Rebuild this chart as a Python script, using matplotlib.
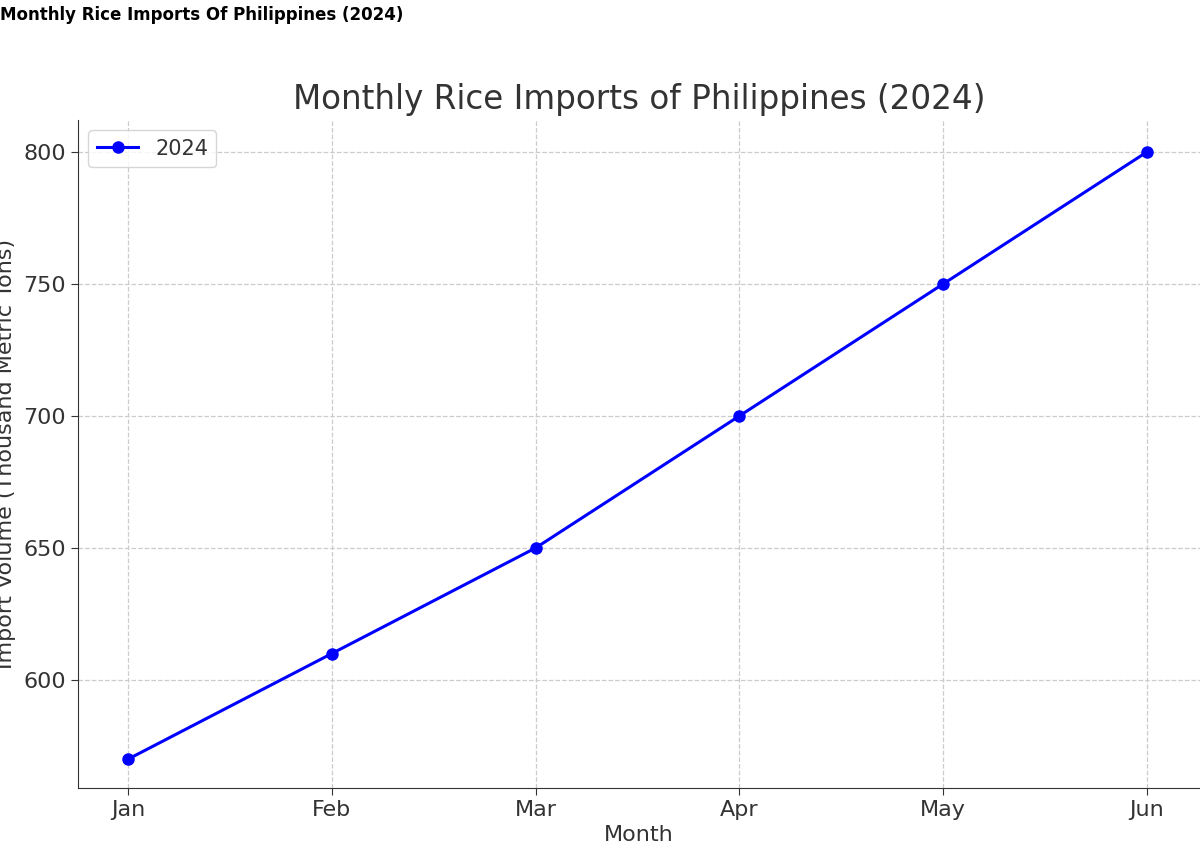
import matplotlib
matplotlib.use("Agg")
import matplotlib.pyplot as plt

months = ["Jan", "Feb", "Mar", "Apr", "May", "Jun"]
imports_2024 = [570, 610, 650, 700, 750, 800]

plt.rcParams['font.family'] = ['DejaVu Sans']
fig = plt.figure(figsize=(12, 8.58), dpi=100)
ax = fig.add_axes([0.065, 0.0816, 0.935, 0.7786])
x = list(range(len(months)))
ax.plot(x, imports_2024, color='blue', marker='o', markersize=8, linewidth=2.2, label='2024')
ax.set_xticks(x)
ax.set_xticklabels(months)
ax.set_xlim(-0.245, 5.26)
ax.set_ylim(559.1, 812.1)
ax.set_yticks([600, 650, 700, 750, 800])
ax.grid(True, linestyle='--', color='#cccccc', linewidth=0.9)
ax.tick_params(labelsize=16, colors='#333333', length=5)
ax.spines['top'].set_visible(False)
ax.spines['right'].set_visible(False)
ax.spines['left'].set_color('#333333')
ax.spines['bottom'].set_color('#333333')
ax.set_title("Monthly Rice Imports of Philippines (2024)", fontsize=23.5, color='#333333', pad=8)
ax.set_xlabel("Month", fontsize=16, color='#333333', labelpad=4)
ax.set_ylabel("Import Volume (Thousand Metric Tons)", fontsize=16, color='#333333')
ax.yaxis.set_label_coords(-0.055, 0.5)
ax.legend(loc='upper left', fontsize=15, labelcolor='#333333')
fig.text(0.0, 0.982, "Monthly Rice Imports Of Philippines (2024)", fontsize=12, fontweight='bold', va='center', ha='left')
fig.savefig("out.png", dpi=100)
